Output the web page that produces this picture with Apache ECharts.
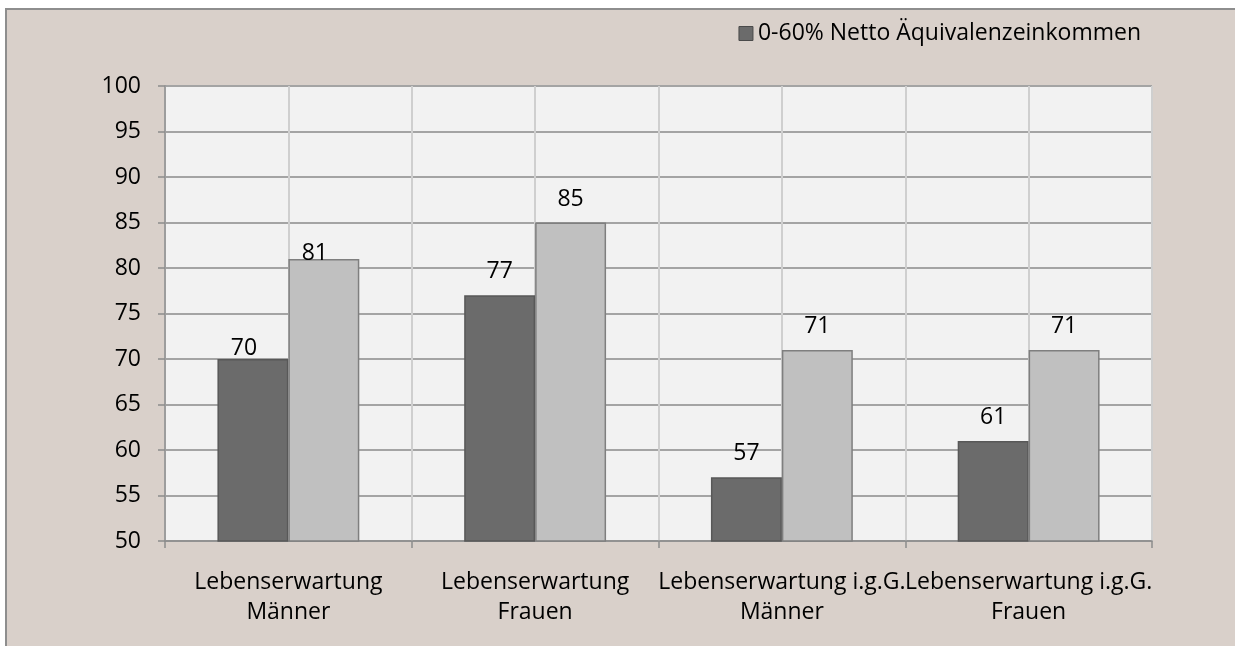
<!DOCTYPE html>
<html>
<head>
<meta charset="utf-8">
<script src="https://cdn.jsdelivr.net/npm/echarts@6/dist/echarts.min.js"></script>
<style>
  html, body { margin: 0; padding: 0; background: #ffffff; overflow: hidden; }
  #chart { position: absolute; left: 0; top: 0; width: 1235px; height: 646px; }
</style>
</head>
<body>
<div id="chart"></div>
<script>
const categories = [
  'Lebenserwartung\nMänner',
  'Lebenserwartung\nFrauen',
  'Lebenserwartung i.g.G.\nMänner',
  'Lebenserwartung i.g.G.\nFrauen'
];
const seriesNames = ['0-60% Netto Äquivalenzeinkommen', 'Gesamt'];
const lowIncome = [70, 77, 57, 61];
const overall = [81, 85, 71, 71];
const yTicks = { min: 50, max: 100, interval: 5 };

const FONT = 'Open Sans';
const FS = 23;
function buildData(values, firstDistance) {
  return values.map((v, i) => i === 0
    ? { value: v, label: { distance: firstDistance, offset: [-9, 0] } }
    : v);
}

const chart = echarts.init(document.getElementById('chart'), null, { renderer: 'canvas' });
chart.setOption({
  backgroundColor: '#ffffff',
  animation: false,
  textStyle: { fontFamily: FONT },
  graphic: [
    { type: 'rect', z: -10, silent: true, shape: { x: 5, y: 8, width: 1300, height: 700 },
      style: { fill: '#d9d0ca' } },
    { type: 'line', z: -9, silent: true, shape: { x1: 5, y1: 9, x2: 1300, y2: 9 },
      style: { stroke: '#8e8e8e', lineWidth: 2 } },
    { type: 'line', z: -9, silent: true, shape: { x1: 6, y1: 8, x2: 6, y2: 700 },
      style: { stroke: '#8e8e8e', lineWidth: 2 } }
  ],
  legend: {
    data: [seriesNames[0]],
    right: 89, top: 17,
    itemWidth: 14, itemHeight: 14, itemGap: 8,
    icon: 'rect',
    textStyle: { fontFamily: FONT, fontSize: FS, color: '#000' },
    itemStyle: { borderColor: '#4a4a4a', borderWidth: 1 }
  },
  grid: {
    left: 165, right: 83, top: 86, bottom: 105,
    show: true, backgroundColor: '#f2f2f2', borderWidth: 0
  },
  xAxis: [
    {
      type: 'category', data: categories,
      axisLine: { lineStyle: { color: '#8c8c8c', width: 1.5 } },
      axisTick: { show: true, length: 7, lineStyle: { color: '#8c8c8c', width: 1.5 } },
      axisLabel: { interval: 0, fontFamily: FONT, fontSize: FS, color: '#000', lineHeight: 30, margin: 26 },
      splitLine: { show: false }
    },
    {
      type: 'value', min: 0, max: 8, interval: 1, show: true, position: 'top',
      axisLine: { show: false }, axisTick: { show: false }, axisLabel: { show: false },
      splitLine: { show: true, lineStyle: { color: '#cfcfcf', width: 2 } }
    }
  ],
  yAxis: {
    type: 'value', min: yTicks.min, max: yTicks.max, interval: yTicks.interval,
    axisLine: { show: true, lineStyle: { color: '#8c8c8c', width: 1.5 } },
    axisTick: { show: true, length: 7, lineStyle: { color: '#8c8c8c', width: 1.5 } },
    axisLabel: { fontFamily: FONT, fontSize: FS, color: '#000', margin: 24 },
    splitLine: { show: true, lineStyle: { color: '#a4a4a4', width: 2 } }
  },
  series: [
    {
      name: seriesNames[0], type: 'bar', xAxisIndex: 0,
      data: buildData(lowIncome, -1),
      barGap: '0%', barCategoryGap: '42.5%',
      itemStyle: { color: '#6b6b6b', borderColor: '#585858', borderWidth: 1.5 },
      label: { show: true, position: 'top', distance: 12, fontFamily: FONT, fontSize: FS, color: '#000' }
    },
    {
      name: seriesNames[1], type: 'bar', xAxisIndex: 0,
      data: buildData(overall, -6),
      barGap: '0%', barCategoryGap: '42.5%',
      itemStyle: { color: '#c0c0c0', borderColor: '#7f7f7f', borderWidth: 1.5 },
      label: { show: true, position: 'top', distance: 12, fontFamily: FONT, fontSize: FS, color: '#000' }
    }
  ]
});
</script>
</body>
</html>
